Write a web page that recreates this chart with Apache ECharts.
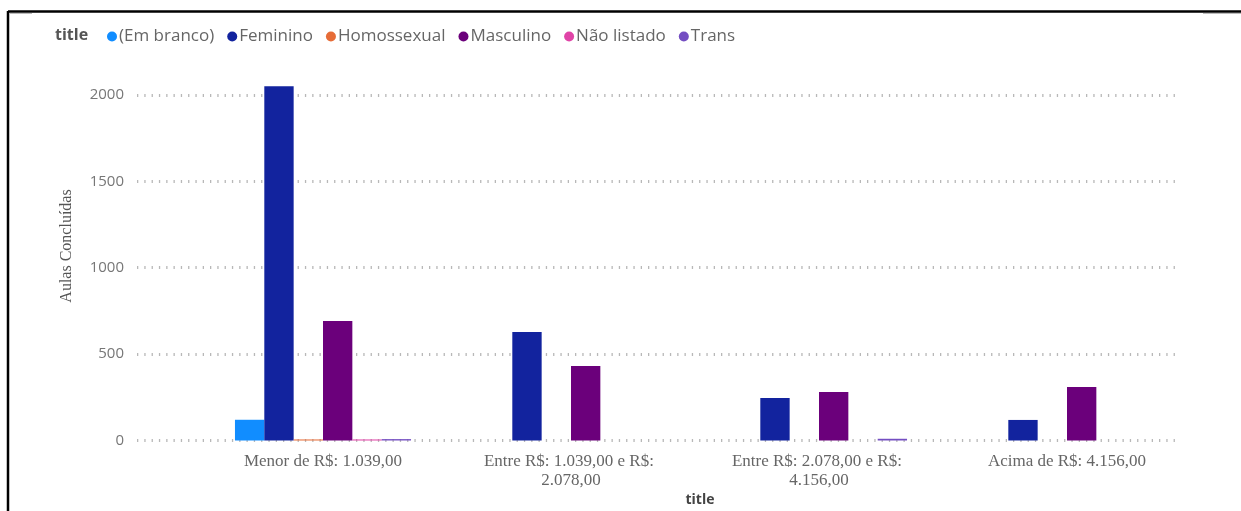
<!DOCTYPE html>
<html>
<head>
<meta charset="utf-8">
<script src="https://cdn.jsdelivr.net/npm/echarts@6/dist/echarts.min.js"></script>
<style>
  html, body { margin: 0; padding: 0; background: #fff; }
  #chart { width: 1241px; height: 511px; }
</style>
</head>
<body>
<div id="chart"></div>
<script>
// Income brackets (x categories)
const categories = [
  'Menor de R$: 1.039,00',
  'Entre R$: 1.039,00 e R$: 2.078,00',
  'Entre R$: 2.078,00 e R$: 4.156,00',
  'Acima de R$: 4.156,00'
];

// Completed lessons per gender group, one array per series
const seriesNames = ['(Em branco)', 'Feminino', 'Homossexual', 'Masculino', 'Não listado', 'Trans'];
const emBranco    = [120, null, null, null];
const feminino    = [2050, 628, 246, 119];
const homossexual = [6, null, null, null];
const masculino   = [692, 431, 281, 310];
const naoListado  = [6, null, null, null];
const trans       = [8, null, 10, null];

const seriesValues = [emBranco, feminino, homossexual, masculino, naoListado, trans];
const colors = ['#118DFF', '#12239E', '#E66C37', '#6B007B', '#E044A7', '#744EC2'];

const yTitle = 'Aulas Concluídas';
const xTitle = 'title';
const legendTitle = 'title';

const sansFont = '"Open Sans", "Noto Sans", sans-serif';
const serifFont = '"Liberation Serif", "DejaVu Serif", serif';

const chart = echarts.init(document.getElementById('chart'), null, { renderer: 'canvas' });

const gridTop = 8.6;
const gridBottom = 70.5;

chart.setOption({
  animation: false,
  color: colors,
  grid: [
    // gridline / value-axis area
    { left: 137, right: 61, top: gridTop, bottom: gridBottom },
    // bar area
    { left: 199, right: 50, top: gridTop, bottom: gridBottom }
  ],
  legend: {
    data: seriesNames,
    left: 102,
    top: 23,
    icon: 'circle',
    itemWidth: 10,
    itemHeight: 10,
    itemGap: 13,
    selectedMode: false,
    textStyle: { fontFamily: sansFont, fontSize: 17, color: '#666', padding: [0, 0, 0, -3] }
  },
  xAxis: [
    { type: 'value', gridIndex: 0, show: false, min: 0, max: 1 },
    {
      type: 'category',
      gridIndex: 1,
      data: categories,
      axisLine: { show: false },
      axisTick: { show: false },
      axisLabel: {
        fontFamily: serifFont,
        fontSize: 17,
        lineHeight: 19,
        color: '#666',
        margin: 12,
        width: 190,
        overflow: 'break',
        interval: 0
      }
    }
  ],
  yAxis: [
    {
      type: 'value',
      gridIndex: 0,
      min: 0,
      max: 2500,
      interval: 500,
      axisLine: { show: false },
      axisTick: { show: false },
      axisLabel: {
        showMaxLabel: false,
        fontFamily: sansFont,
        fontSize: 15,
        color: '#777',
        margin: 13,
        formatter: (v) => String(v)
      },
      splitLine: {
        showMaxLine: false,
        lineStyle: { color: '#b8b8b8', width: 3, type: [1.3, 6] }
      }
    },
    {
      type: 'value',
      gridIndex: 1,
      min: 0,
      max: 2500,
      interval: 500,
      show: false,
      splitLine: { show: false }
    }
  ],
  series: seriesNames.map((name, i) => ({
    name: name,
    type: 'bar',
    xAxisIndex: 1,
    yAxisIndex: 1,
    data: seriesValues[i],
    barGap: '0%',
    barCategoryGap: '29%',
    itemStyle: { color: colors[i] }
  })),
  graphic: [
    // frame
    { type: 'line', shape: { x1: 8, y1: 11.5, x2: 1241, y2: 11.5 }, style: { stroke: '#000', lineWidth: 2.5 } },
    { type: 'line', shape: { x1: 8, y1: 11, x2: 8, y2: 511 }, style: { stroke: '#000', lineWidth: 2.5 } },
    { type: 'line', shape: { x1: 9, y1: 13.5, x2: 32, y2: 13.5 }, style: { stroke: '#bbb', lineWidth: 1 } },
    { type: 'line', shape: { x1: 1203, y1: 13.5, x2: 1241, y2: 13.5 }, style: { stroke: '#bbb', lineWidth: 1 } },
    // legend caption
    {
      type: 'text', left: 55, top: 27,
      style: { text: legendTitle, font: 'bold 16px ' + sansFont, fill: '#555' }
    },
    // y axis title
    {
      type: 'text', x: 67, y: 246, rotation: Math.PI / 2,
      style: { text: yTitle, font: '16px ' + serifFont, fill: '#555', align: 'center', verticalAlign: 'middle' }
    },
    // x axis title
    {
      type: 'text', x: 700, y: 500,
      style: { text: xTitle, font: 'bold 14px ' + sansFont, fill: '#444', align: 'center', verticalAlign: 'middle' }
    }
  ]
});
</script>
</body>
</html>
